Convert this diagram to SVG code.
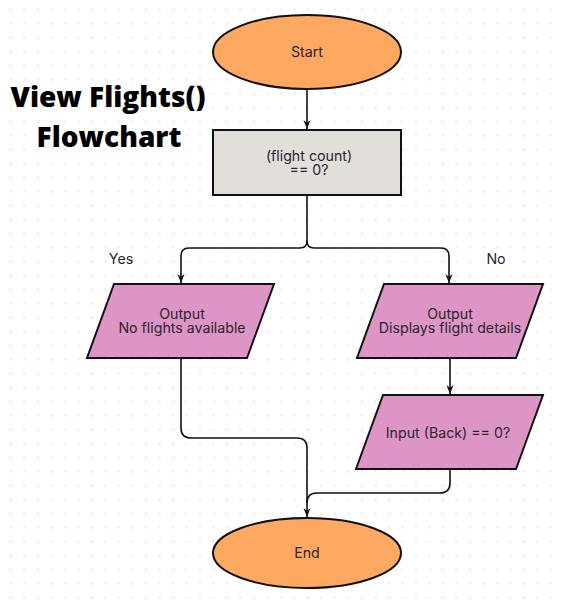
<svg xmlns="http://www.w3.org/2000/svg" width="563" height="609" viewBox="0 0 563 609">
<defs>
<pattern id="dots" x="4" y="2.5" width="13.5" height="14" patternUnits="userSpaceOnUse">
<circle cx="7" cy="7" r="1.1" fill="#e2e2e2"/>
</pattern>
<marker id="arr" viewBox="0 0 10 10" refX="10" refY="5" markerWidth="9" markerHeight="9" markerUnits="userSpaceOnUse" orient="auto">
<path d="M0,1 L10,5 L0,9 L3,5 Z" fill="#111"/>
</marker>
</defs>
<style>
.term{fill:#fea862;stroke:#111;stroke-width:2}
.proc{fill:#e2dfdb;stroke:#111;stroke-width:2}
.io{fill:#dd95c6;stroke:#111;stroke-width:2}
.t{font-family:Inter,"Liberation Sans",sans-serif;font-size:14.2px;fill:#2a2430;text-anchor:middle}
.title{font-family:"Open Sans","Liberation Sans",sans-serif;font-weight:800;font-size:28px;fill:#000;text-anchor:middle}
.c{fill:none;stroke:#111;stroke-width:1.6}
</style>
<rect width="563" height="609" fill="#fff"/>
<rect width="563" height="609" fill="url(#dots)"/>
<g id="title">
<text class="title" x="108" y="107">View Flights()</text>
<text class="title" x="109" y="147">Flowchart</text>
</g>
<g id="connectors">
<path class="c" d="M307,90 V129" marker-end="url(#arr)"/>
<path class="c" d="M307,195 V241 Q307,248 300,248 H189 Q181,248 181,256 V283" marker-end="url(#arr)"/>
<path class="c" d="M307,241 Q307,248 314,248 H441 Q449,248 449,256 V283" marker-end="url(#arr)"/>
<path class="c" d="M450,358 V394" marker-end="url(#arr)"/>
<path class="c" d="M181,358 V428 Q181,438 191,438 H297 Q307,438 307,448 V517" marker-end="url(#arr)"/>
<path class="c" d="M450,469 V483 Q450,493 440,493 H317 Q307,493 307,503"/>
<text class="t" x="121" y="264">Yes</text>
<text class="t" x="496" y="264">No</text>
</g>
<g id="start">
<ellipse class="term" cx="307" cy="52" rx="94" ry="37"/>
<text class="t" x="307" y="57">Start</text>
</g>
<g id="decision">
<rect class="proc" x="213" y="130" width="188" height="65"/>
<text class="t" x="309" y="161">(flight count)</text>
<text class="t" x="309" y="175">== 0?</text>
</g>
<g id="no-flights">
<polygon class="io" points="114,284 274,284 247,358 87,358"/>
<text class="t" x="182" y="318.5">Output</text>
<text class="t" x="182" y="332.5">No flights available</text>
</g>
<g id="display">
<polygon class="io" points="384,284 543,284 516,358 357,358"/>
<text class="t" x="450" y="318.5">Output</text>
<text class="t" x="450" y="332.5">Displays flight details</text>
</g>
<g id="input-back">
<polygon class="io" points="383,395 543,395 516,469 356,469"/>
<text class="t" x="448" y="438">Input (Back) == 0?</text>
</g>
<g id="end">
<ellipse class="term" cx="307" cy="553" rx="94" ry="35"/>
<text class="t" x="307" y="558">End</text>
</g>
</svg>
